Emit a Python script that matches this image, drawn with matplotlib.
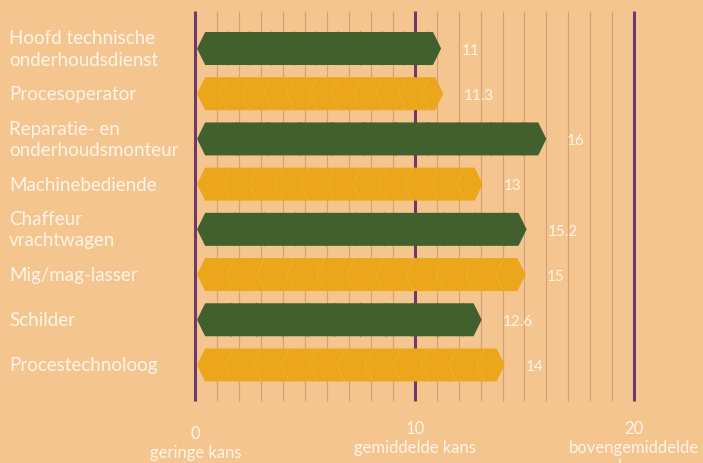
import matplotlib
matplotlib.use("Agg")
import matplotlib.pyplot as plt
from matplotlib.patches import Polygon

# categorieën en waarden
categories = [
    "Hoofd technische\nonderhoudsdienst",
    "Procesoperator",
    "Reparatie- en\nonderhoudsmonteur",
    "Machinebediende",
    "Chaffeur\nvrachtwagen",
    "Mig/mag-lasser",
    "Schilder",
    "Procestechnoloog",
]
values = [11, 11.3, 16, 13, 15.2, 15, 12.6, 14]
# lengte zoals de balk getekend is
bar_ends = [11.2, 11.3, 16.0, 13.1, 15.1, 15.05, 13.05, 14.1]
tick_values = [0, 10, 20]
tick_labels = ["0\ngeringe kans", "10\ngemiddelde kans", "20\nbovengemiddelde\nkans"]

BG = "#f5c590"
GREEN = "#42602e"
ORANGE = "#eca61c"
PURPLE = "#6e3a6c"
GRID = "#d6a07c"
WHITE = "#fdf4e8"

W, H = 703, 464
X0_PX, UNIT_PX = 195.5, 21.93
Y0_PX, ROW_PX = 49.5, 45.21

plt.rcParams["font.family"] = ["Lato", "DejaVu Sans"]

fig = plt.figure(figsize=(W / 100, H / 100), dpi=100)
fig.patch.set_facecolor(BG)
ax = fig.add_axes([0, 0, 1, 1])
ax.set_facecolor(BG)
ax.set_xlim(-X0_PX / UNIT_PX, (W - X0_PX) / UNIT_PX)
ax.set_ylim((H - Y0_PX) / ROW_PX, -Y0_PX / ROW_PX)
ax.axis("off")

# rasterlijnen
grid_top = (12 - Y0_PX) / ROW_PX
grid_bottom = (402 - Y0_PX) / ROW_PX
minor = [v for v in range(1, 20) if v not in tick_values]
ax.vlines(minor, grid_bottom, grid_top, color=GRID, lw=0.9, zorder=1)
ax.vlines(tick_values, grid_bottom, grid_top, color=PURPLE, lw=2.2, zorder=1)

# balken met pijlpunten
bar_h = 0.73
tip = 0.37
start = 0.07
for i, end in enumerate(bar_ends):
    color = GREEN if i % 2 == 0 else ORANGE
    pts = [
        (start + tip, i - bar_h / 2),
        (end - tip, i - bar_h / 2),
        (end, i),
        (end - tip, i + bar_h / 2),
        (start + tip, i + bar_h / 2),
        (start, i),
    ]
    ax.add_patch(Polygon(pts, closed=True, facecolor=color, edgecolor="none", zorder=2))
    # vage chevrons in de balk
    line_color = "#f0b03a" if i % 2 else "#446230"
    n = 11
    step = (end - start) / n
    for k in range(1, n):
        x = start + k * step
        ax.plot([x + tip, x, x + tip], [i - bar_h / 2, i, i + bar_h / 2],
                color=line_color, lw=0.6, zorder=3)
    label = f"{values[i]:g}"
    ax.text(end + 0.95, i + 0.03, label, color=WHITE, fontsize=11,
            ha="left", va="center", zorder=4)

# categorie labels
for i, cat in enumerate(categories):
    ax.text(-8.5, i, cat, color=WHITE, fontsize=13.5, ha="left", va="center",
            linespacing=1.3)

# as labels onderaan
trans = ax.get_xaxis_transform()
tick_tops = [426, 421, 421]
for v, lab, top in zip(tick_values, tick_labels, tick_tops):
    ax.text(v, 1 - top / H, lab, transform=trans, color=WHITE, fontsize=12,
            ha="center", va="top", linespacing=1.25, multialignment="center")

fig.savefig("out.png", dpi=100, facecolor=BG)
